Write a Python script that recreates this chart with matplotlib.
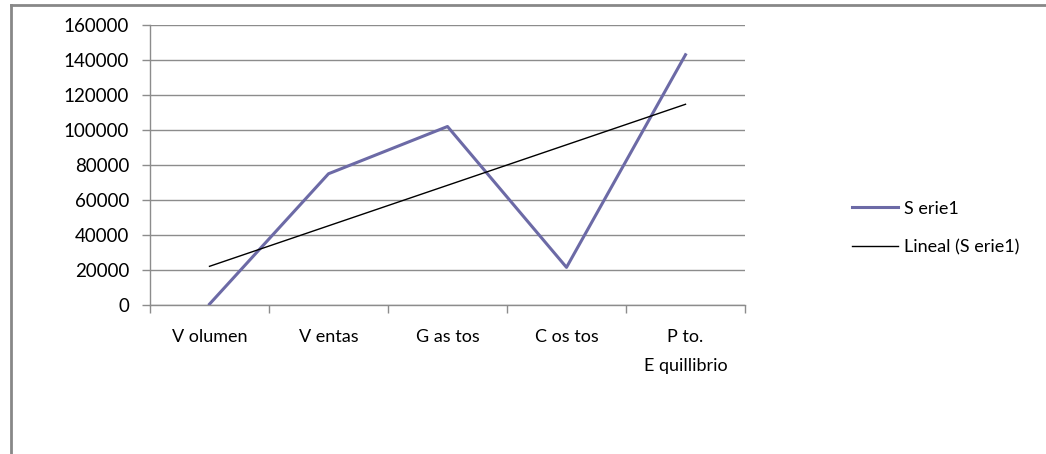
import numpy as np
import matplotlib.pyplot as plt
from matplotlib.lines import Line2D

categories = ['V olumen', 'V entas', 'G as tos', 'C os tos', 'P to.\nE quillibrio']
values = [500, 75000, 102000, 21500, 143000]
y_ticks = [0, 20000, 40000, 60000, 80000, 100000, 120000, 140000, 160000]

series_color = '#6C6AA6'
grid_color = '#8C8C8C'

plt.rcParams['font.family'] = ['Lato', 'DejaVu Sans']

fig = plt.figure(figsize=(10.46, 4.54), dpi=100)
ax = fig.add_axes([150 / 1046, 1 - 305 / 454, 595 / 1046, 280 / 454])

x = np.arange(len(categories))
ax.plot(x, values, color=series_color, linewidth=2.2, label='S erie1', zorder=3)

# linear trendline, like Excel's "Lineal"
slope, intercept = np.polyfit(x, values, 1)
ax.plot(x, slope * x + intercept, color='black', linewidth=1.0,
        label='Lineal (S erie1)', zorder=4)

ax.set_xlim(-0.5, len(categories) - 0.5)
ax.set_ylim(0, 160000)
ax.set_yticks(y_ticks)
ax.set_yticklabels([str(t) for t in y_ticks], fontsize=13.5)
ax.yaxis.grid(True, color=grid_color, linewidth=1.0)
ax.set_axisbelow(True)

ax.set_xticks(x)
ax.set_xticklabels(categories, fontsize=13, linespacing=2.0, va='top')
ax.set_xticks(np.arange(-0.5, len(categories)), minor=True)
ax.tick_params(axis='x', which='major', length=0, pad=17)
ax.tick_params(axis='x', which='minor', length=6, color=grid_color, width=1)
ax.tick_params(axis='y', length=6, color=grid_color, width=1, pad=9)

for side in ['top', 'right']:
    ax.spines[side].set_visible(False)
for side in ['left', 'bottom']:
    ax.spines[side].set_color(grid_color)
    ax.spines[side].set_linewidth(1.0)

fig.legend(loc='center left', bbox_to_anchor=(852 / 1046, 1 - 228 / 454),
           frameon=False, fontsize=13, handlelength=2.55, handletextpad=0.33,
           labelspacing=1.25, borderaxespad=0, borderpad=0)

# outer chart frame (clipped by image edge on right/bottom)
fig.add_artist(Line2D([11 / 1046, 11 / 1046], [0, 1 - 5 / 454],
                      color='#888888', linewidth=2.0, transform=fig.transFigure))
fig.add_artist(Line2D([11 / 1046, 1], [1 - 5 / 454, 1 - 5 / 454],
                      color='#888888', linewidth=2.0, transform=fig.transFigure))

fig.savefig('out.png', dpi=100)
